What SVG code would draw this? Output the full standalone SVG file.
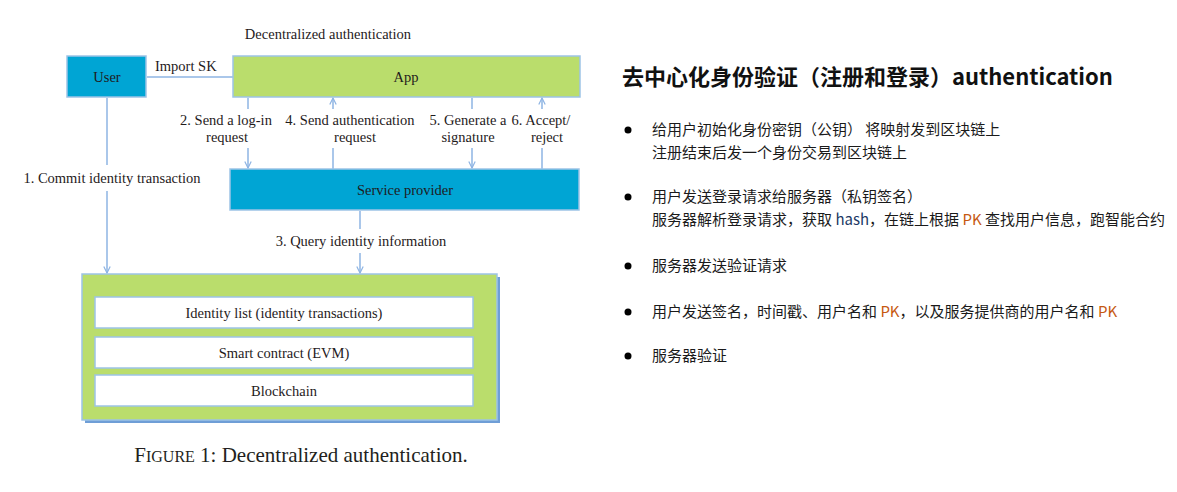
<svg xmlns="http://www.w3.org/2000/svg" width="1177" height="492" viewBox="0 0 1177 492">
<style>
.d{font-family:"Liberation Serif","DejaVu Serif",serif;font-size:14.5px;fill:#1f1b1c;text-anchor:middle}
.cap{font-family:"Liberation Serif","DejaVu Serif",serif;font-size:21px;fill:#231f20}
.ln{stroke:#8eb4e3;stroke-width:1.5;fill:none}
.blue{fill:#00a5d4;stroke:#9dc3e6;stroke-width:1.5}
.green{fill:#badd6c;stroke:#9dc3e6;stroke-width:1.5}
.white{fill:#ffffff;stroke:#9dc3e6;stroke-width:1.5}
.zh{font-family:"Noto Sans CJK SC","Noto Sans",sans-serif;font-size:15px;fill:#1a1a1a}
.ttl{font-family:"Noto Sans CJK SC","Noto Sans",sans-serif;font-size:22px;font-weight:bold;fill:#111}
.pk{fill:#c65911}
.hs{fill:#203864}
</style>
<defs>
<marker id="ah" viewBox="0 0 10 10" refX="9" refY="5" markerWidth="8" markerHeight="8" orient="auto" markerUnits="userSpaceOnUse">
<path d="M1,1 L9,5 L1,9" fill="none" stroke="#8eb4e3" stroke-width="1.5"/>
</marker>
</defs>
<rect width="1177" height="492" fill="#ffffff"/>
<text class="d" x="328" y="39">Decentralized authentication</text>
<g id="connectors">
<line class="ln" x1="147" y1="77" x2="233" y2="77"/>
<line class="ln" x1="107" y1="98" x2="107" y2="165"/>
<line class="ln" x1="107" y1="191" x2="107" y2="273" marker-end="url(#ah)"/>
<line class="ln" x1="248" y1="98" x2="248" y2="109"/>
<line class="ln" x1="248" y1="148" x2="248" y2="168" marker-end="url(#ah)"/>
<line class="ln" x1="333" y1="169" x2="333" y2="148"/>
<line class="ln" x1="333" y1="109" x2="333" y2="98" marker-end="url(#ah)"/>
<line class="ln" x1="472" y1="98" x2="472" y2="109"/>
<line class="ln" x1="472" y1="148" x2="472" y2="168" marker-end="url(#ah)"/>
<line class="ln" x1="542" y1="169" x2="542" y2="148"/>
<line class="ln" x1="542" y1="109" x2="542" y2="98" marker-end="url(#ah)"/>
<line class="ln" x1="360" y1="211" x2="360" y2="229"/>
<line class="ln" x1="360" y1="253" x2="360" y2="273" marker-end="url(#ah)"/>
<text class="d" x="155" y="71" style="text-anchor:start">Import SK</text>
<text class="d" x="112" y="183">1. Commit identity transaction</text>
<text class="d" x="226" y="125">2. Send a log-in</text>
<text class="d" x="227" y="142">request</text>
<text class="d" x="350" y="125">4. Send authentication</text>
<text class="d" x="355" y="142">request</text>
<text class="d" x="468" y="125">5. Generate a</text>
<text class="d" x="468" y="142">signature</text>
<text class="d" x="541" y="125">6. Accept/</text>
<text class="d" x="547" y="142">reject</text>
<text class="d" x="361" y="246">3. Query identity information</text>
</g>
<g id="user">
<rect class="blue" x="67" y="56" width="79" height="41"/>
<text class="d" x="107" y="82">User</text>
</g>
<g id="app">
<rect class="green" x="233" y="56" width="347" height="41"/>
<text class="d" x="406" y="82">App</text>
</g>
<g id="service-provider">
<rect class="blue" x="230" y="169" width="349" height="41"/>
<text class="d" x="405" y="195">Service provider</text>
</g>
<g id="blockchain-stack">
<rect x="85" y="277" width="415" height="146" fill="#6f9ed6"/>
<rect class="green" x="82" y="274" width="415" height="146"/>
<g id="identity-list">
<rect class="white" x="95" y="297" width="378" height="31"/>
<text class="d" x="284" y="318">Identity list (identity transactions)</text>
</g>
<g id="smart-contract">
<rect class="white" x="95" y="337" width="378" height="31"/>
<text class="d" x="284" y="358">Smart contract (EVM)</text>
</g>
<g id="blockchain">
<rect class="white" x="95" y="375" width="378" height="31"/>
<text class="d" x="284" y="396">Blockchain</text>
</g>
</g>
<text class="cap" x="301" y="462" text-anchor="middle">F<tspan font-size="16">IGURE</tspan> 1: Decentralized authentication.</text>
<g id="notes">
<text class="ttl" x="622" y="85">去中心化身份验证（注册和登录）authentication</text>
<circle cx="628" cy="130" r="3.5" fill="#000"/>
<text class="zh" x="652" y="135">给用户初始化身份密钥（公钥） 将映射发到区块链上</text>
<text class="zh" x="652" y="158">注册结束后发一个身份交易到区块链上</text>
<circle cx="628" cy="197" r="3.5" fill="#000"/>
<text class="zh" x="652" y="202">用户发送登录请求给服务器（私钥签名）</text>
<text class="zh" x="652" y="225">服务器解析登录请求，获取 <tspan class="hs">hash</tspan>，在链上根据 <tspan class="pk">PK</tspan> 查找用户信息，跑智能合约</text>
<circle cx="628" cy="266" r="3.5" fill="#000"/>
<text class="zh" x="652" y="271">服务器发送验证请求</text>
<circle cx="628" cy="312" r="3.5" fill="#000"/>
<text class="zh" x="652" y="317">用户发送签名，时间戳、用户名和 <tspan class="pk">PK</tspan>，以及服务提供商的用户名和 <tspan class="pk">PK</tspan></text>
<circle cx="628" cy="356" r="3.5" fill="#000"/>
<text class="zh" x="652" y="361">服务器验证</text>
</g>
</svg>
